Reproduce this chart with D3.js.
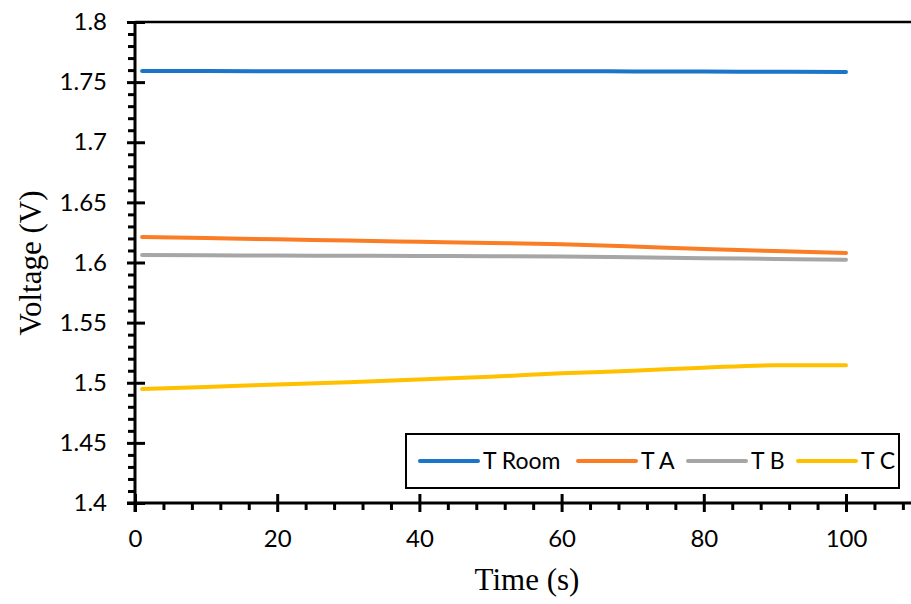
<!DOCTYPE html>
<html>
<head>
<meta charset="utf-8">
<script src="https://cdn.jsdelivr.net/npm/d3@7"></script>
<style>
  body { margin: 0; background: #fff; }
</style>
</head>
<body>
<div id="chart"></div>
<script>
// Data
const times = [1, 10, 20, 30, 40, 50, 60, 70, 80, 90, 100];
const tRoom = [1.7592, 1.7592, 1.7591, 1.7590, 1.7590, 1.7590, 1.7590, 1.7589, 1.7588, 1.7586, 1.7585];
const tA = [1.6212, 1.6203, 1.6193, 1.6182, 1.6172, 1.6162, 1.6151, 1.6133, 1.6112, 1.6095, 1.6080];
const tB = [1.6062, 1.6060, 1.6058, 1.6056, 1.6054, 1.6053, 1.6050, 1.6044, 1.6036, 1.6030, 1.6023];
const tC = [1.4948, 1.4965, 1.4985, 1.5005, 1.5027, 1.5050, 1.5078, 1.5100, 1.5125, 1.5145, 1.5145];
const seriesNames = ["T Room", "T A", "T B", "T C"];
const seriesColors = ["#1b75c9", "#fa7d25", "#a6a6a6", "#ffc000"];
const xTicks = [0, 20, 40, 60, 80, 100];
const yTicks = [1.4, 1.45, 1.5, 1.55, 1.6, 1.65, 1.7, 1.75, 1.8];

const width = 911;
const height = 604;
const marginLeft = 135;
const marginTop = 22;
const marginBottom = 101; // x axis at y = 503
const pxPerUnit = 7.11;

const x = d3.scaleLinear([0, (width - marginLeft) / pxPerUnit], [marginLeft, width]);
const y = d3.scaleLinear([1.4, 1.8], [height - marginBottom, marginTop]);

const svg = d3.create("svg").attr("width", width).attr("height", height);

// Top border line
svg.append("line")
  .attr("x1", marginLeft).attr("x2", width)
  .attr("y1", marginTop).attr("y2", marginTop)
  .attr("stroke", "#000").attr("stroke-width", 2.5);

// Data lines
const allSeries = [tRoom, tA, tB, tC];
const line = d3.line()
  .x((d, i) => x(times[i]))
  .y((d) => y(d))
  .curve(d3.curveMonotoneX);

allSeries.forEach((vals, k) => {
  svg.append("path")
    .attr("fill", "none")
    .attr("stroke", seriesColors[k])
    .attr("stroke-width", 4)
    .attr("stroke-linecap", "round")
    .attr("d", line(vals));
});

const labelFont = "Lato, 'Open Sans', sans-serif";
const titleFont = "'Liberation Serif', 'Times New Roman', serif";

// X axis: minor ticks (outside), major ticks (cross)
const xAxis = svg.append("g").attr("transform", `translate(0,${y(1.4)})`);
const xMinor = d3.range(4, 109, 4).filter((v) => v % 20 !== 0);
xAxis.call(d3.axisBottom(x).tickValues(xMinor).tickSize(7).tickFormat(""))
  .call((g) => g.selectAll(".tick line").attr("stroke-width", 3))
  .call((g) => g.select(".domain").remove());
xAxis.append("g")
  .call(d3.axisBottom(x).tickValues(xTicks).tickSize(9).tickSizeOuter(0).tickPadding(18))
  .call((g) => g.select(".domain").remove())
  .call((g) => g.selectAll(".tick line").attr("y1", -9).attr("stroke-width", 3))
  .call((g) => g.selectAll(".tick text")
    .attr("font-family", labelFont).attr("font-size", 24).attr("fill", "#000"));
xAxis.append("line")
  .attr("x1", marginLeft - 8).attr("x2", width)
  .attr("stroke", "#000").attr("stroke-width", 3);

// Y axis
const yAxis = svg.append("g").attr("transform", `translate(${marginLeft},0)`);
const yMinor = d3.range(1.41, 1.8, 0.01).filter((v) => Math.abs(v * 20 - Math.round(v * 20)) > 1e-6);
yAxis.call(d3.axisLeft(y).tickValues(yMinor).tickSize(7).tickFormat(""))
  .call((g) => g.selectAll(".tick line").attr("stroke-width", 3))
  .call((g) => g.select(".domain").remove());
yAxis.append("g")
  .call(d3.axisLeft(y).tickValues(yTicks).tickSize(8).tickPadding(20).tickFormat(d3.format("")))
  .call((g) => g.select(".domain").remove())
  .call((g) => g.selectAll(".tick line").attr("x1", 10).attr("stroke-width", 3))
  .call((g) => g.selectAll(".tick text")
    .attr("font-family", labelFont).attr("font-size", 24).attr("fill", "#000"));
yAxis.append("line")
  .attr("y1", marginTop - 1).attr("y2", y(1.4) + 9)
  .attr("stroke", "#000").attr("stroke-width", 3);

// Axis titles
svg.append("text")
  .attr("x", 527).attr("y", 590)
  .attr("text-anchor", "middle")
  .attr("font-family", titleFont)
  .attr("font-size", 31)
  .text("Time (s)");

svg.append("text")
  .attr("transform", `translate(41,263) rotate(-90)`)
  .attr("text-anchor", "middle")
  .attr("font-family", titleFont)
  .attr("font-size", 31)
  .text("Voltage (V)");

// Legend
const legend = svg.append("g");
legend.append("rect")
  .attr("x", 406).attr("y", 434).attr("width", 493).attr("height", 54)
  .attr("fill", "#fff").attr("stroke", "#000").attr("stroke-width", 2);
const legendX = [420, 578, 688, 798];
seriesNames.forEach((name, k) => {
  legend.append("line")
    .attr("x1", legendX[k]).attr("x2", legendX[k] + 58)
    .attr("y1", 461).attr("y2", 461)
    .attr("stroke", seriesColors[k]).attr("stroke-width", 4)
    .attr("stroke-linecap", "round");
  legend.append("text")
    .attr("x", legendX[k] + 63).attr("y", 469)
    .attr("font-family", labelFont).attr("font-size", 23)
    .text(name);
});

document.getElementById("chart").appendChild(svg.node());
</script>
</body>
</html>
